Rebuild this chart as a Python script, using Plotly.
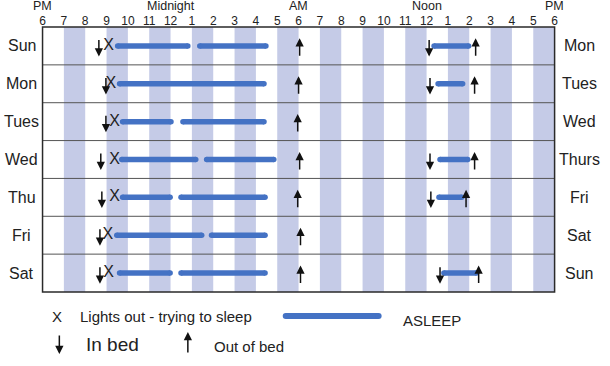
import plotly.graph_objects as go

# ---------------- data ----------------
days_left = ["Sun", "Mon", "Tues", "Wed", "Thu", "Fri", "Sat"]
days_right = ["Mon", "Tues", "Wed", "Thurs", "Fri", "Sat", "Sun"]

# hours measured from midnight of the first day (18 = 6 PM, 30 = 6 AM, 42 = 6 PM next day)
tick_hours = list(range(18, 43))
tick_labels = ["6", "7", "8", "9", "10", "11", "12", "1", "2", "3", "4", "5",
               "6", "7", "8", "9", "10", "11", "12", "1", "2", "3", "4", "5", "6"]
period_hours = [18, 24, 30, 36, 42]
period_labels = ["PM", "Midnight", "AM", "Noon", "PM"]

in_bed_night = [20.64, 20.97, 20.97, 20.73, 20.78, 20.69, 20.69]
lights_out = [21.10, 21.20, 21.38, 21.38, 21.38, 21.06, 21.10]
sleep1_start = [21.52, 21.61, 21.75, 21.71, 21.75, 21.48, 21.61]
sleep1_end = [24.81, 28.38, 24.02, 25.18, 23.98, 25.46, 23.98]
sleep2_start = [25.37, None, 24.58, 25.69, 24.49, 25.92, 24.49]
sleep2_end = [28.47, None, 28.38, 28.84, 28.43, 28.43, 28.43]
out_of_bed_morning = [30.05, 30.00, 29.96, 30.05, 29.96, 30.09, 30.09]

nap_in_bed = [36.12, 36.16, None, 36.16, 36.20, None, 36.63]
nap_start = [36.35, 36.54, None, 36.63, 36.58, None, 36.81]
nap_end = [37.97, 37.69, None, 37.93, 37.65, None, 38.34]
nap_out_of_bed = [38.30, 38.25, None, 38.25, 37.85, None, 38.44]

legend_texts = ["Lights out - trying to sleep", "ASLEEP", "In bed", "Out of bed"]

# ---------------- styles ----------------
FONT = "Liberation Sans, Arial, sans-serif"
TXT = "#222222"
BAR = "#4472c4"
STRIPE = "#c5cbe7"
BW = 5.5
W, H = 610, 366
PL, PR, PT, PB = 40, 558, 27, 292  # plot box in pixels

fig = go.Figure()

# sleep bars (rows with None gaps)
bx, by = [], []
for i in range(len(days_left)):
    for s, e in [(sleep1_start[i], sleep1_end[i]), (sleep2_start[i], sleep2_end[i]),
                 (nap_start[i], nap_end[i])]:
        if s is None:
            continue
        bx += [s, e, None]
        by += [i, i, None]
fig.add_trace(go.Scatter(x=bx, y=by, mode="lines+markers",
                         line=dict(color=BAR, width=BW),
                         marker=dict(color=BAR, size=BW, line=dict(width=0)),
                         connectgaps=False, hoverinfo="skip", showlegend=False))

# lights out X
fig.add_trace(go.Scatter(x=lights_out, y=list(range(len(days_left))), mode="text",
                         text=["X"] * len(days_left), textposition="middle center",
                         textfont=dict(family=FONT, size=16, color=TXT),
                         hoverinfo="skip", showlegend=False))

annotations = []
arrow_style = dict(showarrow=True, arrowhead=2, arrowsize=1.1, arrowwidth=1.5,
                   arrowcolor="#111111", text="", standoff=0, startstandoff=0)


def down_arrow(x, y):
    return dict(x=x, y=y + 0.28, xref="x", yref="y", ax=0, ay=-18, **arrow_style)


def up_arrow(x, y):
    return dict(x=x, y=y - 0.2, xref="x", yref="y", ax=0, ay=19, **arrow_style)


for i in range(len(days_left)):
    annotations.append(down_arrow(in_bed_night[i], i))
    annotations.append(up_arrow(out_of_bed_morning[i], i))
    if nap_in_bed[i] is not None:
        annotations.append(down_arrow(nap_in_bed[i], i))
    if nap_out_of_bed[i] is not None:
        annotations.append(up_arrow(nap_out_of_bed[i], i))
    annotations.append(dict(x=19 / W, y=i, xref="paper", yref="y", text=days_left[i],
                            showarrow=False, xanchor="center", yanchor="middle",
                            font=dict(family=FONT, size=16, color=TXT)))
    annotations.append(dict(x=583 / W, y=i, xref="paper", yref="y", text=days_right[i],
                            showarrow=False, xanchor="center", yanchor="middle",
                            font=dict(family=FONT, size=16, color=TXT)))

for h, lab in zip(period_hours, period_labels):
    annotations.append(dict(x=h, y=1 - 6 / H, xref="x", yref="paper", text=lab,
                            showarrow=False, xanchor="center", yanchor="middle",
                            font=dict(family=FONT, size=12.5, color=TXT)))

# legend
annotations.append(dict(x=55 / W, y=1 - 316 / H, xref="paper", yref="paper", text="X",
                        showarrow=False, xanchor="center", yanchor="middle",
                        font=dict(family=FONT, size=15, color=TXT)))
annotations.append(dict(x=76 / W, y=1 - 316 / H, xref="paper", yref="paper",
                        text=legend_texts[0], showarrow=False, xanchor="left",
                        yanchor="middle", font=dict(family=FONT, size=15, color=TXT)))
annotations.append(dict(x=403 / W, y=1 - 320 / H, xref="paper", yref="paper",
                        text=legend_texts[1], showarrow=False, xanchor="left",
                        yanchor="middle", font=dict(family=FONT, size=15, color=TXT)))
annotations.append(dict(x=82 / W, y=1 - 344 / H, xref="paper", yref="paper",
                        text=legend_texts[2], showarrow=False, xanchor="left",
                        yanchor="middle", font=dict(family=FONT, size=19, color=TXT)))
annotations.append(dict(x=211 / W, y=1 - 346 / H, xref="paper", yref="paper",
                        text=legend_texts[3], showarrow=False, xanchor="left",
                        yanchor="middle", font=dict(family=FONT, size=15, color=TXT)))
annotations.append(dict(x=57 / W, y=1 - 354 / H, xref="paper", yref="paper",
                        ax=0, ay=-20, **arrow_style))
annotations.append(dict(x=187 / W, y=1 - 332 / H, xref="paper", yref="paper",
                        ax=0, ay=22, **arrow_style))

# legend bar on a hidden full-figure axis
fig.add_trace(go.Scatter(x=[286, 380], y=[316, 316], xaxis="x2", yaxis="y2",
                         mode="lines+markers", line=dict(color=BAR, width=BW + 0.5),
                         marker=dict(color=BAR, size=BW + 0.5, line=dict(width=0)),
                         hoverinfo="skip", showlegend=False))

shapes = []
for s in range(19, 42, 2):
    shapes.append(dict(type="rect", xref="x", yref="y domain", x0=s, x1=s + 1, y0=0, y1=1,
                       fillcolor=STRIPE, line=dict(width=0), layer="below"))
for i in range(len(days_left) - 1):
    shapes.append(dict(type="line", xref="x domain", yref="y", x0=0, x1=1,
                       y0=i + 0.5, y1=i + 0.5, line=dict(color="#555555", width=1)))
shapes.append(dict(type="rect", xref="x domain", yref="y domain", x0=0, x1=1, y0=0, y1=1,
                   line=dict(color="#2a2a2a", width=1.5), fillcolor="rgba(0,0,0,0)"))

fig.update_layout(
    width=W, height=H,
    margin=dict(l=0, r=0, t=0, b=0),
    paper_bgcolor="white", plot_bgcolor="rgba(0,0,0,0)",
    showlegend=False,
    xaxis=dict(domain=[PL / W, PR / W], range=[18, 42], side="top",
               tickvals=tick_hours, ticktext=tick_labels, ticks="",
               ticklabelstandoff=-1,
               tickfont=dict(family=FONT, size=12, color=TXT),
               showgrid=False, zeroline=False, showline=False, fixedrange=True),
    yaxis=dict(domain=[1 - PB / H, 1 - PT / H], range=[6.5, -0.5],
               showticklabels=False, showgrid=False, zeroline=False, showline=False),
    xaxis2=dict(domain=[0, 1], range=[0, W], visible=False, anchor="y2"),
    yaxis2=dict(domain=[0, 1], range=[H, 0], visible=False, anchor="x2"),
    shapes=shapes,
    annotations=annotations,
)

fig.write_html("out.html", config={"displayModeBar": False},
               post_script="document.body.style.margin='0';")
